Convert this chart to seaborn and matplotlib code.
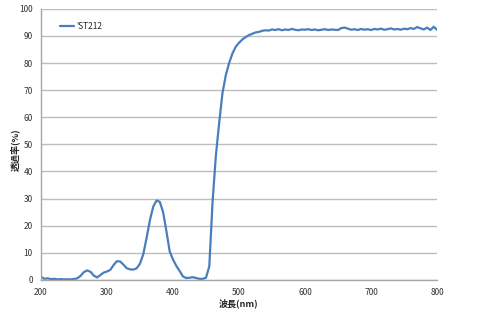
import numpy as np
import pandas as pd
import matplotlib
matplotlib.use("Agg")
import matplotlib.pyplot as plt
import seaborn as sns

series_name = "'ST212"
wavelength = list(range(200, 801, 5))
transmittance = [
    1.2, 0.4, 0.6, 0.3, 0.4, 0.2, 0.3, 0.2, 0.2, 0.2,   # 200-245
    0.3, 0.6, 1.5, 2.9, 3.5, 3.0, 1.6, 0.9, 1.8, 2.7,   # 250-295
    3.1, 3.7, 5.5, 6.9, 6.8, 5.6, 4.3, 3.9, 3.8, 4.3,   # 300-345
    6.0, 9.5, 15.5, 22.0, 27.0, 29.3, 28.8, 25.0, 18.0, 10.5,  # 350-395
    7.5, 5.2, 3.3, 1.3, 0.7, 0.8, 1.0, 0.7, 0.4, 0.4,   # 400-445
    0.8, 5.0, 29.0, 46.0, 58.0, 69.0, 75.5, 80.0, 83.5, 86.0,  # 450-495
    87.5, 88.7, 89.6, 90.3, 90.8, 91.3, 91.5, 91.9, 92.1, 92.0,  # 500-545
    92.4, 92.2, 92.5, 92.1, 92.4, 92.2, 92.6, 92.3, 92.1, 92.4,  # 550-595
    92.3, 92.5, 92.2, 92.4, 92.1, 92.3, 92.5, 92.2, 92.4, 92.3,  # 600-645
    92.2, 92.9, 93.1, 92.7, 92.3, 92.5, 92.2, 92.6, 92.3, 92.5,  # 650-695
    92.2, 92.6, 92.4, 92.7, 92.3, 92.5, 92.8, 92.4, 92.6, 92.3,  # 700-745
    92.7, 92.5, 92.9, 92.6, 93.3, 92.8, 92.4, 93.1, 92.2, 93.4,  # 750-795
    92.3,  # 800
]
x_ticks = [200, 300, 400, 500, 600, 700, 800]
y_ticks = [0, 10, 20, 30, 40, 50, 60, 70, 80, 90, 100]
x_label = "波長(nm)"
y_label = "透過率(%)"

df = pd.DataFrame({"wavelength": wavelength, "T": transmittance, "series": series_name})

sns.set_style("white")
plt.rcParams["font.family"] = ["Noto Sans CJK JP", "DejaVu Sans"]

fig = plt.figure(figsize=(5.0, 3.17), dpi=100)
ax = fig.add_axes([0.082, 0.117, 0.792, 0.855])

sns.lineplot(data=df, x="wavelength", y="T", hue="series", palette=["#4a7ebb"],
             linewidth=1.6, ax=ax)

ax.set_xlim(200, 800)
ax.set_ylim(0, 100)
ax.set_xticks(x_ticks)
ax.set_yticks(y_ticks)
ax.tick_params(axis="both", labelsize=6, length=0, pad=6, colors="#333333")
ax.yaxis.grid(True, color="#bdbdbd", linewidth=1.0)
ax.xaxis.grid(False)
ax.set_axisbelow(True)
for s in ["top", "right"]:
    ax.spines[s].set_visible(False)
for s in ["left", "bottom"]:
    ax.spines[s].set_color("#a6a6a6")
    ax.spines[s].set_linewidth(1.0)

ax.set_xlabel(x_label, fontsize=6.5, fontweight="bold", labelpad=1)
ax.set_ylabel(y_label, fontsize=6.5, fontweight="bold")
ax.yaxis.set_label_coords(-0.053, 0.48)

leg = ax.legend(loc="upper left", bbox_to_anchor=(0.03, 0.98), frameon=False,
                fontsize=6, handlelength=1.6, handletextpad=0.3)

fig.savefig("out.png", dpi=100)
